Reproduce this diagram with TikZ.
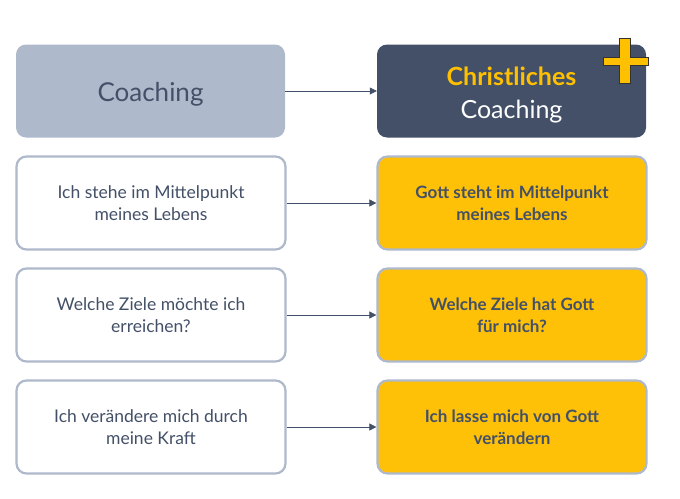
\documentclass[tikz,border=0pt]{standalone}
\usepackage{fontspec}
\setmainfont{Lato}
\usetikzlibrary{arrows.meta}
\definecolor{slate}{HTML}{435068}
\definecolor{greyblue}{HTML}{AEB9CB}
\definecolor{gold}{HTML}{FFC000}
\definecolor{rowgold}{HTML}{FFC107}
\tikzset{
  box/.style={rounded corners=10pt, minimum width=269pt, minimum height=93pt, align=center, inner sep=0pt},
  leftbox/.style={box, fill=white, draw=greyblue, line width=2.2pt, text=slate, font=\fontsize{17.5}{22}\selectfont},
  rightbox/.style={box, fill=rowgold, draw=greyblue, line width=2.2pt, text=slate, font=\fontsize{17}{22}\selectfont\bfseries},
  headtext/.style={align=center, inner sep=0pt},
  conn/.style={draw=slate, line width=0.6pt, -{Triangle[length=7pt,width=7pt]}},
}
\begin{document}
\begin{tikzpicture}[x=1pt,y=-1pt]
\useasboundingbox (0,0) rectangle (680,498);
\node[box, fill=greyblue] (c0) at (150.5,91) {};
\node[headtext, text=slate, font=\fontsize{26}{30}\selectfont] (c0t) at ([yshift=-3pt]c0.center) {Coaching};
\node[box, fill=slate] (k0) at (511.5,91) {};
\node[headtext, font=\fontsize{25}{33}\selectfont] (k0t) at ([yshift=-3.5pt]k0.center) {\textcolor{gold}{\bfseries Christliches}\\\textcolor{white}{Coaching}};
\draw[fill=gold, draw=black!80, line width=1pt]
  (619,38) -- (630,38) -- (630,57) -- (648,57) -- (648,65) -- (630,65) -- (630,83) -- (619,83) -- (619,65) -- (603,65) -- (603,57) -- (619,57) -- cycle;
\node[leftbox] (c1) at (151,203) {Ich stehe im Mittelpunkt\\meines Lebens};
\node[rightbox] (k1) at (512,203) {Gott steht im Mittelpunkt\\meines Lebens};
\node[leftbox] (c2) at (151,315) {Welche Ziele möchte ich\\erreichen?};
\node[rightbox] (k2) at (512,315) {Welche Ziele hat Gott\\für mich?};
\node[leftbox] (c3) at (151,427) {Ich verändere mich durch\\meine Kraft};
\node[rightbox] (k3) at (512,427) {Ich lasse mich von Gott\\verändern};
\draw[conn] (c0) -- (k0);
\draw[conn] (c1) -- (k1);
\draw[conn] (c2) -- (k2);
\draw[conn] (c3) -- (k3);
\end{tikzpicture}
\end{document}
